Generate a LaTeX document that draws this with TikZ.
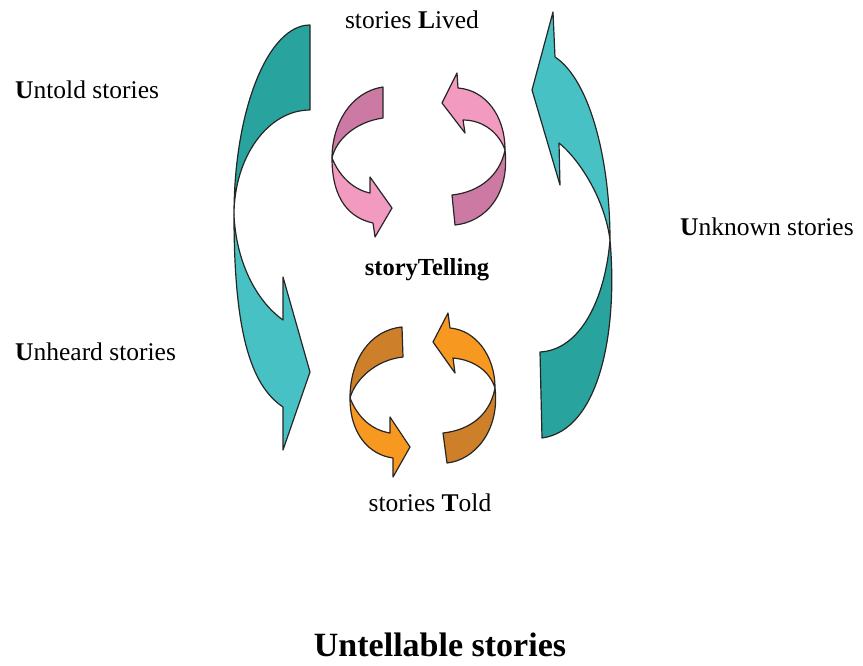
\documentclass[tikz,border=0pt]{standalone}
\usepackage{fontspec}
\setmainfont{Liberation Serif}
\begin{document}
\begin{tikzpicture}[x=1pt,y=-1pt,
  band/.style={draw=black!85,line width=1.2pt,line join=round},
  lbl/.style={inner sep=0pt,font=\fontsize{25.5}{30}\selectfont},
]
\definecolor{tealD}{RGB}{41,163,158}
\definecolor{tealL}{RGB}{72,193,196}
\definecolor{pinkD}{RGB}{204,122,163}
\definecolor{pinkL}{RGB}{243,154,192}
\definecolor{orgD}{RGB}{206,127,42}
\definecolor{orgL}{RGB}{247,152,32}
\useasboundingbox (0,0) rectangle (863,665);

% ---- left big arrow ----
\path[band,fill=tealD] (310,25) -- (310,110)
  .. controls (268,110) and (234,157) .. (234,215)
  .. controls (234,110) and (268,25) .. cycle;
\path[band,fill=tealL] (234,215)
  .. controls (236,260) and (255,300) .. (283,320)
  -- (283,277) -- (310,372) -- (283,450) -- (283,407)
  .. controls (250,385) and (234,330) .. cycle;

% ---- right big arrow ----
\path[band,fill=tealD] (610,240)
  .. controls (618,330) and (600,430) .. (542,438)
  -- (540,352)
  .. controls (580,350) and (605,300) .. cycle;
\path[band,fill=tealL] (610,240)
  .. controls (610,160) and (590,80) .. (555,57)
  -- (553,12) -- (532,90) -- (560,185) -- (559,143)
  .. controls (580,160) and (605,200) .. cycle;

% ---- pink top-left ----
\path[band,fill=pinkD] (383,87) -- (383,118)
  .. controls (355,122) and (336,140) .. (332,158)
  .. controls (332,125) and (350,92) .. cycle;
\path[band,fill=pinkL] (332,158)
  .. controls (340,178) and (355,190) .. (370,193)
  -- (370,177) -- (392,208) -- (375,237) -- (373,223)
  .. controls (350,218) and (332,200) .. cycle;

% ---- pink top-right ----
\path[band,fill=pinkD] (505,150)
  .. controls (510,195) and (485,222) .. (455,225)
  -- (452,195)
  .. controls (480,192) and (500,175) .. cycle;
\path[band,fill=pinkL] (505,150)
  .. controls (505,115) and (485,90) .. (458,88)
  -- (457,73) -- (442,103) -- (465,133) -- (463,120)
  .. controls (485,120) and (500,135) .. cycle;

% ---- orange bottom-left ----
\path[band,fill=orgD] (402,327) -- (403,357)
  .. controls (375,360) and (355,380) .. (350,398)
  .. controls (350,360) and (370,330) .. cycle;
\path[band,fill=orgL] (350,398)
  .. controls (358,418) and (372,430) .. (390,433)
  -- (390,417) -- (410,447) -- (393,477) -- (393,458)
  .. controls (370,455) and (350,435) .. cycle;

% ---- orange bottom-right ----
\path[band,fill=orgD] (495,388)
  .. controls (500,430) and (475,460) .. (447,463)
  -- (443,433)
  .. controls (470,430) and (490,415) .. cycle;
\path[band,fill=orgL] (495,388)
  .. controls (495,355) and (475,330) .. (450,328)
  -- (448,313) -- (433,342) -- (455,373) -- (453,358)
  .. controls (475,360) and (490,372) .. cycle;

% ---- labels ----
\node[lbl] (lived) at (412,20) {stories \textbf{L}ived};
\node[lbl,anchor=west] (untold) at (15,90) {\textbf{U}ntold stories};
\node[lbl,anchor=west] (unknown) at (680,227) {\textbf{U}nknown stories};
\node[inner sep=0pt,font=\fontsize{24.5}{30}\selectfont\bfseries] (telling) at (427,270) {storyTelling};
\node[lbl,anchor=west] (unheard) at (15,352) {\textbf{U}nheard stories};
\node[lbl] (told) at (430,503) {stories \textbf{T}old};
\node[inner sep=0pt,font=\fontsize{34}{40}\selectfont\bfseries] (untell) at (440,645) {Untellable stories};
\end{tikzpicture}
\end{document}
